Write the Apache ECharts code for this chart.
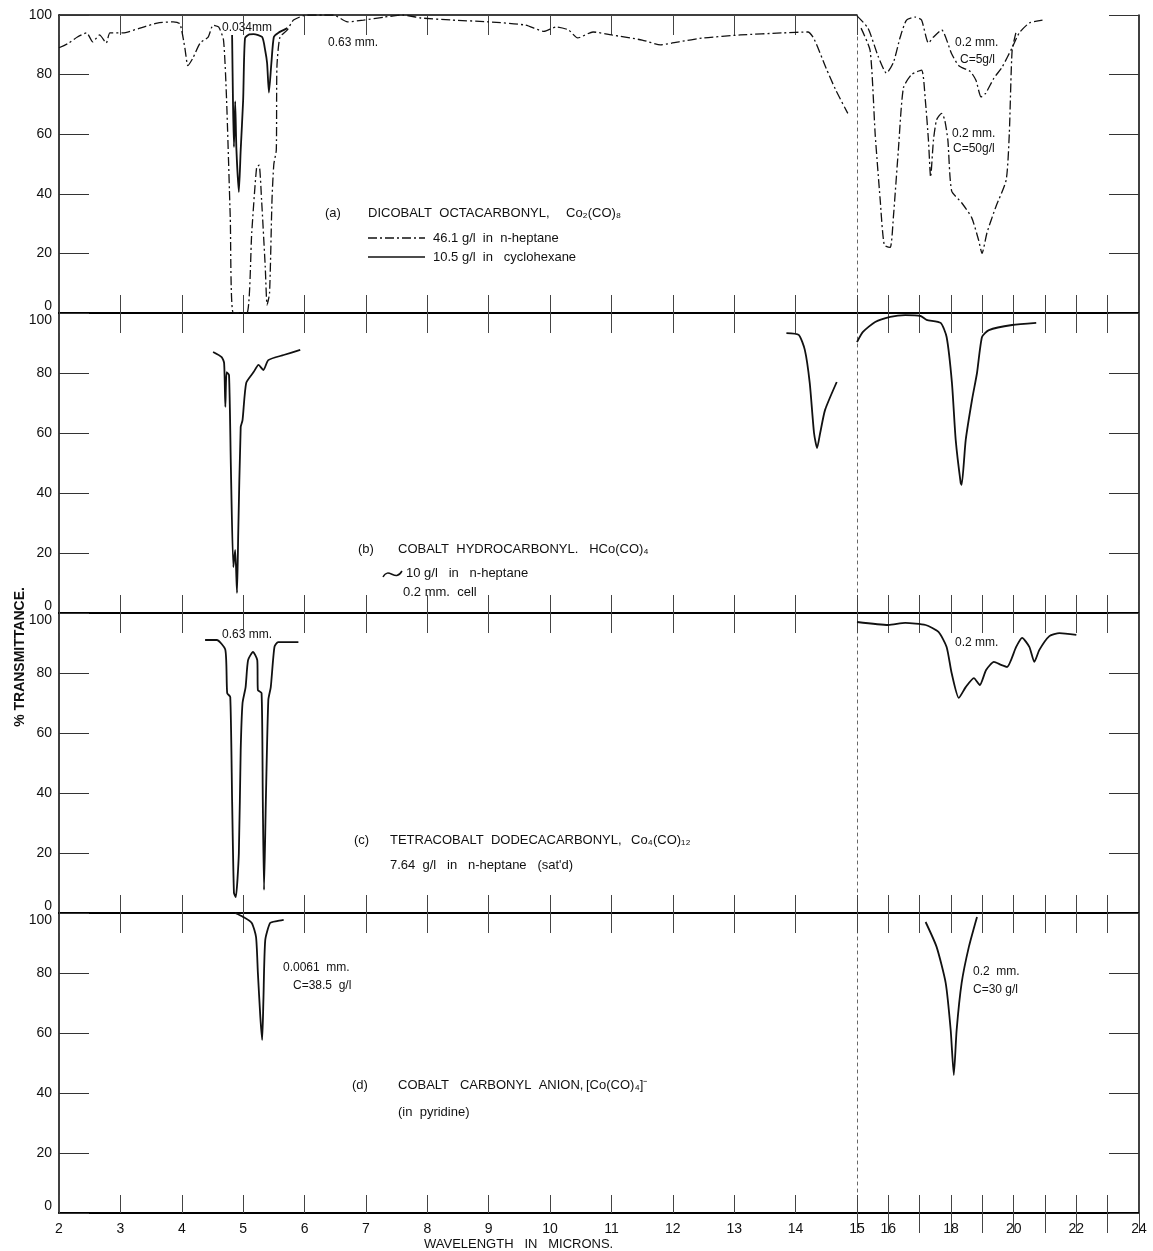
<!DOCTYPE html>
<html><head><meta charset="utf-8">
<script src="https://cdn.jsdelivr.net/npm/echarts/dist/echarts.min.js"></script>
<style>html,body{margin:0;padding:0;background:#fff}#c{width:1153px;height:1251px}</style>
</head><body><div id="c"></div>
<script>
// ---------- DATA (wavelength in microns, % transmittance) ----------
const xTicksLeft = [2,3,4,5,6,7,8,9,10,11,12,13,14,15];
const xTicksRight = [16,18,20,22,24];
const yTicks = [0,20,40,60,80,100];

// (a) Dicobalt octacarbonyl
const aHeptane063 = [[2.0,89],[2.15,90.5],[2.3,92.6],[2.45,94],[2.55,91],[2.66,93.3],[2.77,90.6],[2.83,94],[3.04,94],[3.32,95.6],[3.6,97.3],[3.86,97.7],[3.97,97],[4.05,89],[4.1,83],[4.18,85.5],[4.3,90.6],[4.43,92.6],[4.51,96.6],[4.6,96],[4.68,91.6],[4.73,71.5],[4.79,32],[4.84,0],[5.06,0],[5.14,27],[5.22,49],[5.26,49.6],[5.3,38],[5.36,15.4],[5.39,2.7],[5.43,6.7],[5.47,38],[5.5,50],[5.54,54.7],[5.55,82.5],[5.6,92.6],[5.72,95],[5.82,98.3],[6.04,100],[6.31,100],[6.47,100],[6.7,97.7],[6.96,98.3],[7.3,99.3],[7.6,100],[7.9,99],[8.4,98.3],[9.0,97.7],[9.6,96.6],[9.9,94.5],[10.1,96],[10.3,95],[10.45,92.3],[10.7,94.3],[11.0,93.3],[11.5,91.6],[11.8,90],[12.1,91],[12.5,92.3],[13.1,93.3],[13.8,94],[14.2,94.3],[14.3,92],[14.5,82],[14.65,75],[14.85,67]];
const aCyclo0034 = [[4.82,93.3],[4.835,70],[4.85,55.7],[4.87,71],[4.89,55],[4.93,40.6],[4.96,54.7],[5.0,71.5],[5.03,92.2],[5.1,93.5],[5.17,93.6],[5.31,92.6],[5.36,88],[5.39,83.9],[5.42,74],[5.46,83.9],[5.5,92.6],[5.57,94],[5.72,95.6]];
const aC5 = [[15.0,99.7],[15.35,95.6],[15.68,86],[15.94,80.5],[16.16,84],[16.38,92.6],[16.58,98.3],[16.86,99.3],[17.06,98.3],[17.28,90.6],[17.44,92.6],[17.7,95],[18.02,87],[18.25,83],[18.62,81],[18.8,78],[18.96,72.5],[19.11,73.8],[19.37,78.8],[19.63,82.5],[19.95,89],[20.18,94],[20.5,97.3],[20.92,98.3]];
const aC50 = [[15.13,95.6],[15.42,88],[15.58,60],[15.74,38],[15.87,22.8],[16.06,22],[16.16,32],[16.32,54.7],[16.48,75.5],[16.74,80],[17.06,81.5],[17.18,71.5],[17.28,58],[17.35,45.6],[17.44,58],[17.54,64.8],[17.7,67],[17.8,64.8],[17.9,58],[18.02,41],[18.34,37],[18.66,32],[18.88,24.5],[18.99,20],[19.15,27],[19.43,35.6],[19.76,44.6],[19.86,60],[19.95,88],[20.07,94]];

// (b) Cobalt hydrocarbonyl
const bMain = [[4.51,87],[4.65,85.3],[4.69,83.3],[4.71,68.7],[4.73,80.3],[4.77,79.3],[4.8,48.7],[4.84,15.3],[4.87,21],[4.9,6.7],[4.92,26.7],[4.96,62],[4.99,64.3],[5.05,76.7],[5.17,80.3],[5.25,82.7],[5.33,81],[5.41,84.3],[5.66,86],[5.93,87.7]];
const bMid = [[13.85,93.3],[14.05,92.7],[14.15,87.7],[14.23,76.7],[14.3,60],[14.35,55],[14.4,60],[14.48,67.7],[14.67,77]];
const bRight = [[15.0,90.3],[15.19,93.7],[15.58,97],[16.06,98.7],[16.54,99.3],[17.03,99],[17.22,97.7],[17.67,96.7],[17.86,92],[18.03,76.7],[18.15,57.7],[18.31,43.3],[18.34,42.7],[18.47,57.7],[18.67,71],[18.83,80],[18.99,92],[19.21,94.3],[19.95,96],[20.72,96.7]];

// (c) Tetracobalt dodecacarbonyl
const cMain = [[4.38,91],[4.57,91],[4.71,87.7],[4.74,73.3],[4.79,72],[4.82,37.7],[4.85,6.7],[4.88,5.3],[4.93,20],[4.96,54.3],[4.99,70],[5.04,75.3],[5.08,84.3],[5.16,87],[5.23,84.3],[5.24,74.3],[5.3,73.3],[5.32,37.7],[5.34,7.7],[5.37,37.7],[5.41,71],[5.45,75.3],[5.51,88.7],[5.57,90.3],[5.9,90.3]];
const cRight = [[15.0,97],[16.0,96],[16.54,96.7],[17.19,96],[17.6,93.7],[17.86,88.7],[18.02,80],[18.25,71.7],[18.47,75.3],[18.73,78.3],[18.92,76],[19.12,81],[19.37,83.7],[19.6,82.7],[19.79,82],[20.08,88.7],[20.27,91.7],[20.5,88.7],[20.66,83.7],[20.82,87.7],[21.14,92.3],[21.46,93.3],[22.0,92.7]];

// (d) Cobalt carbonyl anion
const dMain = [[4.87,100],[5.0,98.7],[5.14,96.7],[5.21,92],[5.24,80],[5.28,65.3],[5.31,57.7],[5.33,71],[5.36,91],[5.44,96.7],[5.55,97.3],[5.66,97.7]];
const dRight = [[17.19,97],[17.54,88.7],[17.83,76.7],[17.99,61],[18.09,46],[18.18,61],[18.34,76.7],[18.57,88.7],[18.83,98.7]];

// ---------- LAYOUT ----------
const FONT = "'Liberation Sans', Arial, sans-serif";
const INK = '#111';
const DASHDOT = [9,3,2,3];
const panelTop = [15,313,613,913];
const panelH = [298,300,300,300];
const secLeft = [59,857];
const secW = [798,282];
const secMin = [2,15];
const secMax = [15,24];

const grids = [], xAxes = [], yAxes = [];
const yIdx = [];
for (let p = 0; p < 4; p++) {
  for (let s = 0; s < 2; s++) {
    const g = p*2 + s;
    grids.push({left: secLeft[s], top: panelTop[p], width: secW[s], height: panelH[p]});
    xAxes.push({
      gridIndex: g, type: 'value', position: 'bottom', min: secMin[s], max: secMax[s], interval: 1,
      axisLine: {show: true, lineStyle: {color: '#000', width: 2}},
      axisTick: {show: true, inside: true, length: 18, lineStyle: {color: '#444', width: 1}},
      axisLabel: {
        show: p === 3, margin: 9, fontSize: 14, color: INK, fontFamily: FONT,
        formatter: v => s === 0 ? (xTicksLeft.includes(v) ? String(v) : '') : (xTicksRight.includes(v) ? String(v) : '')
      },
      splitLine: {show: false}
    });
    xAxes.push({
      gridIndex: g, type: 'value', position: 'top', min: secMin[s], max: secMax[s], interval: 1,
      axisLine: {show: true, lineStyle: {color: '#000', width: p === 0 ? 1.5 : 2}},
      axisTick: {show: true, inside: true, length: 20, lineStyle: {color: '#444', width: 1}},
      axisLabel: {show: false}, splitLine: {show: false}
    });
    if (s === 0) {
      yIdx.push(yAxes.length);
      yAxes.push({
        gridIndex: g, type: 'value', position: 'left', min: 0, max: 100, interval: 20,
        axisLine: {show: true, lineStyle: {color: '#000', width: 1.5}},
        axisTick: {show: true, inside: true, length: 30, lineStyle: {color: '#333', width: 1}},
        axisLabel: {
          margin: 7, color: INK, fontSize: 14, fontFamily: FONT,
          formatter: v => v === 0 ? '{lo|0}' : (v === 100 && p > 0 ? '{hi|100}' : '{n|' + v + '}'),
          rich: {
            lo: {fontSize: 14, color: INK, fontFamily: FONT, padding: [0,0,14,0]},
            hi: {fontSize: 14, color: INK, fontFamily: FONT, padding: [14,0,0,0]},
            n: {fontSize: 14, color: INK, fontFamily: FONT}
          }
        },
        splitLine: {show: false}
      });
    } else {
      yIdx.push(yAxes.length);
      yAxes.push({
        gridIndex: g, type: 'value', position: 'left', min: 0, max: 100, interval: 20,
        axisLine: {show: true, lineStyle: {color: '#666', width: 1, type: [3,4]}},
        axisTick: {show: false}, axisLabel: {show: false}, splitLine: {show: false}
      });
      yAxes.push({
        gridIndex: g, type: 'value', position: 'right', min: 0, max: 100, interval: 20,
        axisLine: {show: true, lineStyle: {color: '#000', width: 1.5}},
        axisTick: {show: true, inside: true, length: 30, lineStyle: {color: '#333', width: 1}},
        axisLabel: {show: false}, splitLine: {show: false}
      });
    }
  }
}

function curve(data, panel, sec, dashed, width) {
  const g = panel*2 + sec;
  return {
    type: 'line', data: data, xAxisIndex: g*2, yAxisIndex: yIdx[g],
    showSymbol: false, smooth: 0.2, clip: true, silent: true,
    lineStyle: {color: INK, width: width || (dashed ? 1.3 : 1.8), type: dashed ? DASHDOT : 'solid'}
  };
}

const series = [
  curve(aHeptane063, 0, 0, true),
  curve(aCyclo0034, 0, 0, false),
  curve(aC5, 0, 1, true),
  curve(aC50, 0, 1, true),
  curve(bMain, 1, 0, false),
  curve(bMid, 1, 0, false),
  curve(bRight, 1, 1, false),
  curve(cMain, 2, 0, false),
  curve(cRight, 2, 1, false),
  curve(dMain, 3, 0, false),
  curve(dRight, 3, 1, false)
];

function txt(x, y, t, size, opts) {
  opts = opts || {};
  return {
    type: 'text', x: x, y: y, rotation: opts.rot || 0, silent: true,
    style: {
      text: t, fill: INK, font: (opts.bold ? 'bold ' : '') + (size || 13) + 'px ' + FONT,
      align: opts.align || 'left', verticalAlign: 'middle',
      textAlign: opts.align || 'left', textVerticalAlign: 'middle'
    }
  };
}

const graphics = [
  // panel (a)
  txt(222, 28, '0.034mm', 12),
  txt(328, 43, '0.63 mm.', 12),
  txt(325, 213, '(a)', 13),
  txt(368, 213, 'DICOBALT  OCTACARBONYL,', 13),
  txt(566, 213, 'Co₂(CO)₈', 13),
  {type: 'line', silent: true, shape: {x1: 368, y1: 238, x2: 425, y2: 238}, style: {stroke: INK, lineWidth: 1.3, lineDash: DASHDOT}},
  txt(433, 238, '46.1 g/l  in  n-heptane', 13),
  {type: 'line', silent: true, shape: {x1: 368, y1: 257, x2: 425, y2: 257}, style: {stroke: INK, lineWidth: 1.5}},
  txt(433, 257, '10.5 g/l  in   cyclohexane', 13),
  txt(955, 43, '0.2 mm.', 12),
  txt(960, 60, 'C=5g/l', 12),
  txt(952, 134, '0.2 mm.', 12),
  txt(953, 149, 'C=50g/l', 12),
  // panel (b)
  txt(358, 549, '(b)', 13),
  txt(398, 549, 'COBALT  HYDROCARBONYL.   HCo(CO)₄', 13),
  {type: 'bezierCurve', silent: true, shape: {x1: 383, y1: 577, x2: 402, y2: 571, cpx1: 389, cpy1: 566, cpx2: 395, cpy2: 583}, style: {stroke: INK, lineWidth: 1.5, fill: 'none'}},
  txt(406, 573, '10 g/l   in   n-heptane', 13),
  txt(403, 592, '0.2 mm.  cell', 13),
  // panel (c)
  txt(222, 635, '0.63 mm.', 12),
  txt(354, 840, '(c)', 13),
  txt(390, 840, 'TETRACOBALT  DODECACARBONYL,', 13),
  txt(631, 840, 'Co₄(CO)₁₂', 13),
  txt(390, 865, '7.64  g/l   in   n-heptane   (sat\'d)', 13),
  txt(955, 643, '0.2 mm.', 12),
  // panel (d)
  txt(283, 968, '0.0061  mm.', 12),
  txt(293, 986, 'C=38.5  g/l', 12),
  txt(352, 1085, '(d)', 13),
  txt(398, 1085, 'COBALT   CARBONYL  ANION,', 13),
  txt(586, 1085, '[Co(CO)₄]⁻', 13),
  txt(398, 1112, '(in  pyridine)', 13),
  txt(973, 972, '0.2  mm.', 12),
  txt(973, 990, 'C=30 g/l', 12),
  // axis titles
  txt(424, 1244, 'WAVELENGTH   IN   MICRONS.', 13),
  txt(20, 657, '% TRANSMITTANCE.', 14, {bold: true, rot: Math.PI/2, align: 'center'})
];

const chart = echarts.init(document.getElementById('c'), null, {renderer: 'canvas'});
chart.setOption({
  backgroundColor: '#fff',
  animation: false,
  grid: grids, xAxis: xAxes, yAxis: yAxes,
  series: series,
  graphic: {elements: graphics}
});
</script></body></html>
